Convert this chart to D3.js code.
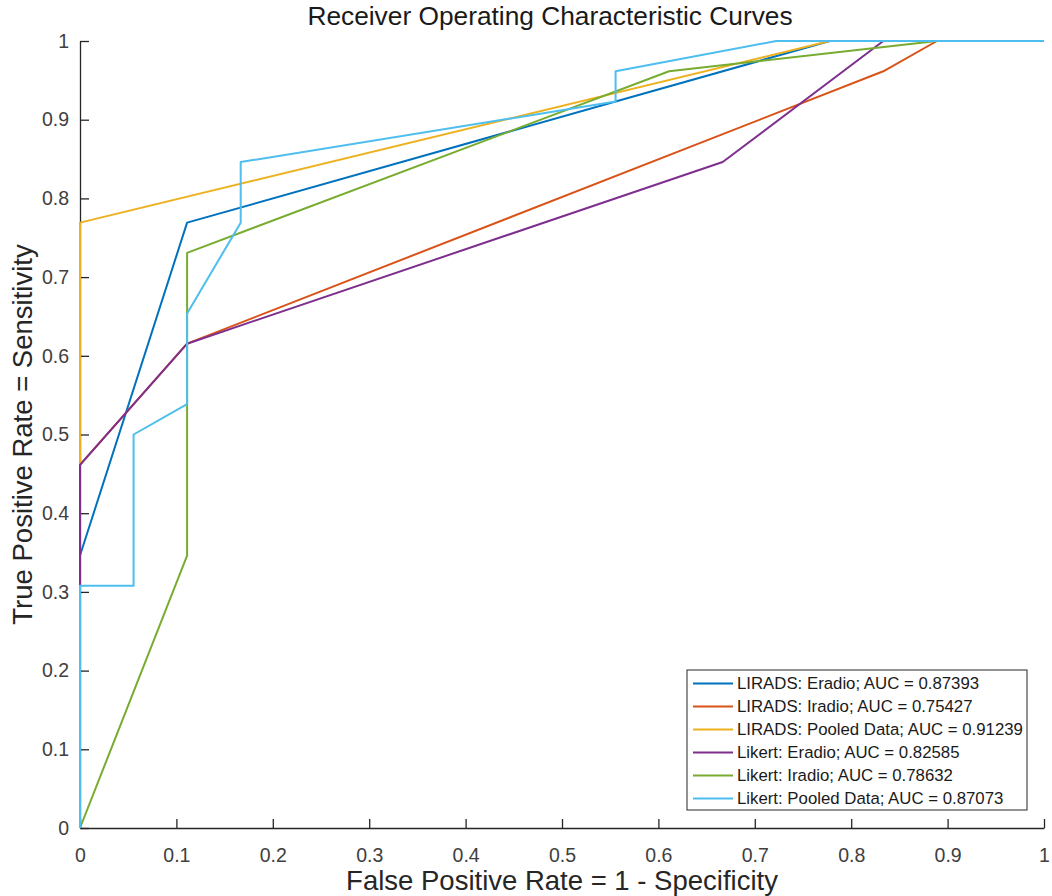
<!DOCTYPE html>
<html>
<head>
<meta charset="utf-8">
<script src="https://cdn.jsdelivr.net/npm/d3@7"></script>
<style>
  body { margin: 0; background: #fff; }
  text { font-family: "Liberation Sans", Arial, sans-serif; }
</style>
</head>
<body>
<div id="chart"></div>
<script>
// ROC curve points (FPR, TPR)
const lirEradioFpr = [0, 0, 0.1111, 0.5556, 0.7778, 1];
const lirEradioTpr = [0, 0.3462, 0.7692, 0.9231, 1, 1];

const lirIradioFpr = [0, 0, 0.1111, 0.8333, 0.8889, 1];
const lirIradioTpr = [0, 0.4615, 0.6154, 0.9615, 1, 1];

const lirPooledFpr = [0, 0, 0.7778, 1];
const lirPooledTpr = [0, 0.7692, 1, 1];

const likEradioFpr = [0, 0, 0.1111, 0.6667, 0.8333, 1];
const likEradioTpr = [0, 0.4615, 0.6154, 0.8462, 1, 1];

const likIradioFpr = [0, 0.1111, 0.1111, 0.6111, 0.8889, 1];
const likIradioTpr = [0, 0.3462, 0.7308, 0.9615, 1, 1];

const likPooledFpr = [0, 0, 0.0556, 0.0556, 0.1111, 0.1111, 0.1667, 0.1667, 0.5556, 0.5556, 0.7222, 1];
const likPooledTpr = [0, 0.3077, 0.3077, 0.5, 0.5385, 0.6538, 0.7692, 0.8462, 0.9231, 0.9615, 1, 1];

const seriesNames = [
  "LIRADS: Eradio; AUC = 0.87393",
  "LIRADS: Iradio; AUC = 0.75427",
  "LIRADS: Pooled Data; AUC = 0.91239",
  "Likert: Eradio; AUC = 0.82585",
  "Likert: Iradio; AUC = 0.78632",
  "Likert: Pooled Data; AUC = 0.87073"
];
const seriesColors = ["#0072BD", "#D95319", "#EDB120", "#7E2F8E", "#77AC30", "#4DBEEE"];

const xTicks = [0, 0.1, 0.2, 0.3, 0.4, 0.5, 0.6, 0.7, 0.8, 0.9, 1];
const yTicks = [0, 0.1, 0.2, 0.3, 0.4, 0.5, 0.6, 0.7, 0.8, 0.9, 1];

const series = [
  [lirEradioFpr, lirEradioTpr],
  [lirIradioFpr, lirIradioTpr],
  [lirPooledFpr, lirPooledTpr],
  [likEradioFpr, likEradioTpr],
  [likIradioFpr, likIradioTpr],
  [likPooledFpr, likPooledTpr]
].map((s, i) => ({
  name: seriesNames[i],
  color: seriesColors[i],
  points: s[0].map((f, j) => ({ fpr: f, tpr: s[1][j] }))
}));

// Set dimensions and margins
const totalW = 1052, totalH = 896;
const margin = { top: 41, right: 8, bottom: 68, left: 80 };
const width = totalW - margin.left - margin.right;
const height = totalH - margin.top - margin.bottom;

const x = d3.scaleLinear().domain([0, 1]).range([0, width]);
const y = d3.scaleLinear().domain([0, 1]).range([height, 0]);

const svg = d3.select("#chart")
  .append("svg")
  .attr("width", totalW)
  .attr("height", totalH)
  .append("g")
  .attr("transform", `translate(${margin.left},${margin.top})`);

// Axes (ticks pointing inward, MATLAB style)
const xAxis = svg.append("g")
  .attr("transform", `translate(0,${height})`)
  .call(d3.axisBottom(x)
    .tickValues(xTicks)
    .tickFormat(d3.format("~g"))
    .tickSizeInner(-9)
    .tickSizeOuter(0)
    .tickPadding(17));

const yAxis = svg.append("g")
  .call(d3.axisLeft(y)
    .tickValues(yTicks)
    .tickFormat(d3.format("~g"))
    .tickSizeInner(-9)
    .tickSizeOuter(0)
    .tickPadding(11));

[xAxis, yAxis].forEach(g => {
  g.select(".domain").attr("stroke", "#262626").attr("stroke-width", 1.3);
  g.selectAll(".tick line").attr("stroke", "#262626").attr("stroke-width", 1.3);
  g.selectAll(".tick text")
    .attr("fill", "#404040")
    .style("font-size", "19.5px")
    .style("font-family", "'Liberation Sans', Arial, sans-serif");
});
xAxis.selectAll(".tick text").attr("dy", "0.85em");

// Curves
const line = d3.line()
  .x(d => x(d.fpr))
  .y(d => y(d.tpr));

svg.selectAll(".roc")
  .data(series)
  .join("path")
  .attr("class", "roc")
  .attr("fill", "none")
  .attr("stroke", d => d.color)
  .attr("stroke-width", 2)
  .attr("stroke-linejoin", "round")
  .attr("d", d => line(d.points));

// Title and axis labels
svg.append("text")
  .attr("x", width / 2 - 12)
  .attr("y", -16)
  .attr("text-anchor", "middle")
  .attr("fill", "#1a1a1a")
  .style("font-size", "26.3px")
  .text("Receiver Operating Characteristic Curves");

svg.append("text")
  .attr("x", width / 2)
  .attr("y", height + 62)
  .attr("text-anchor", "middle")
  .attr("fill", "#262626")
  .style("font-size", "27.5px")
  .text("False Positive Rate = 1 - Specificity");

svg.append("text")
  .attr("transform", "rotate(-90)")
  .attr("x", -(y(0.5)))
  .attr("y", -48)
  .attr("text-anchor", "middle")
  .attr("fill", "#262626")
  .style("font-size", "27.5px")
  .text("True Positive Rate = Sensitivity");

// Legend
const legend = svg.append("g")
  .attr("transform", `translate(${687 - margin.left},${670 - margin.top})`);

legend.append("rect")
  .attr("width", 340)
  .attr("height", 140)
  .attr("fill", "#fff")
  .attr("stroke", "#262626")
  .attr("stroke-width", 1);

const rows = legend.selectAll(".row")
  .data(series)
  .join("g")
  .attr("class", "row")
  .attr("transform", (d, i) => `translate(0,${13.5 + i * 23})`);

rows.append("line")
  .attr("x1", 6)
  .attr("x2", 46)
  .attr("stroke", d => d.color)
  .attr("stroke-width", 2);

rows.append("text")
  .attr("x", 50)
  .attr("dy", "0.35em")
  .attr("fill", "#1a1a1a")
  .style("font-size", "16.8px")
  .text(d => d.name);
</script>
</body>
</html>
